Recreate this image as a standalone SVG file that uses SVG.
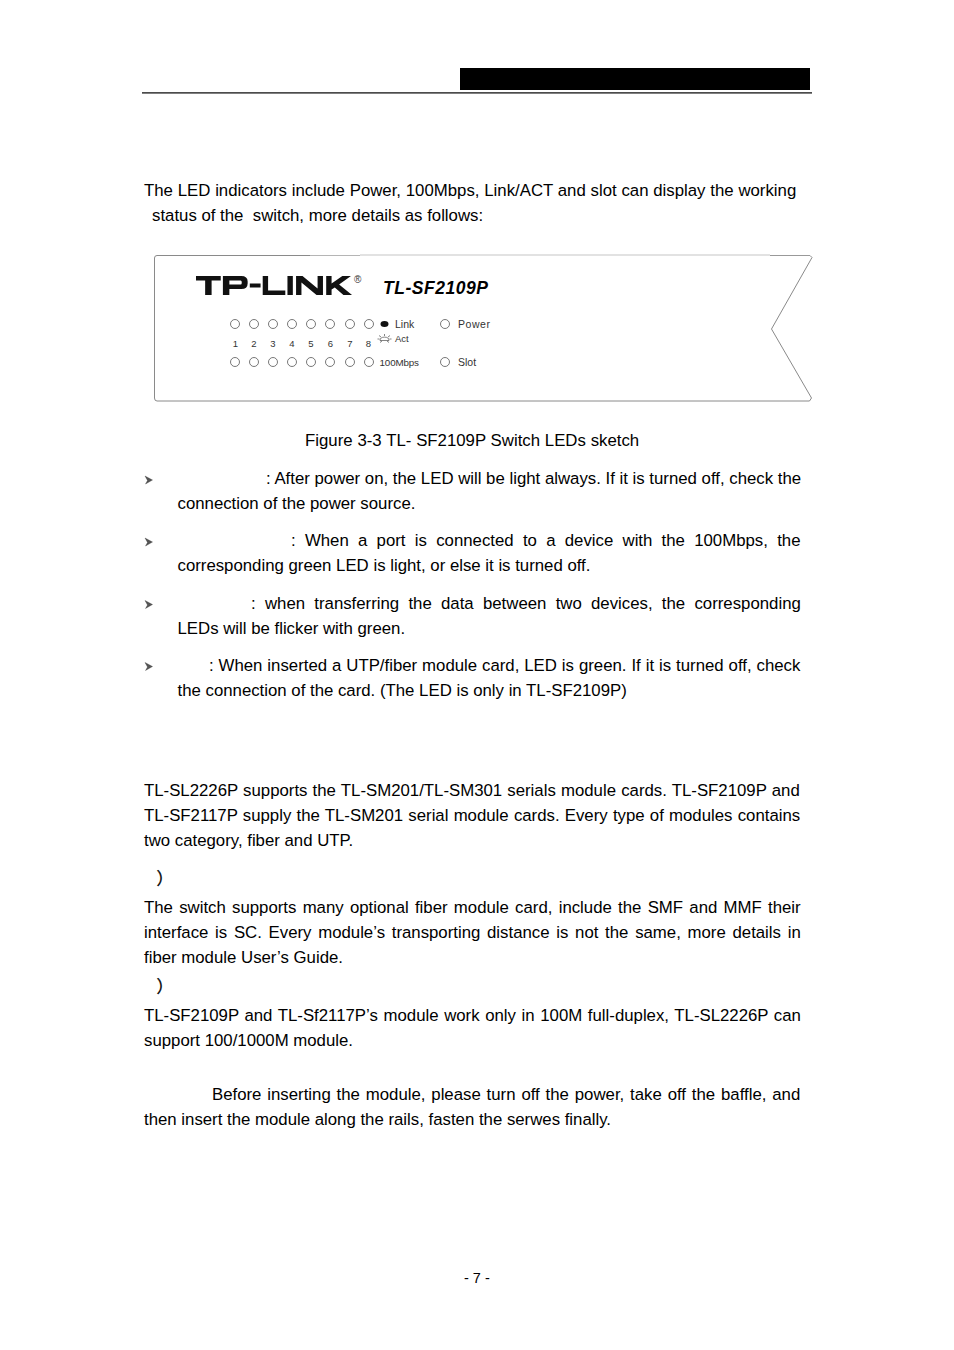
<svg xmlns="http://www.w3.org/2000/svg" width="954" height="1350" viewBox="0 0 954 1350">
<style>
text{font-family:"Liberation Sans",Arial,sans-serif;fill:#000}
.b{font-size:16.8px}
.led{fill:#fff;stroke:#555;stroke-width:.8}
.s{font-size:10.500px;fill:#333}
.m{font-size:9.500px;fill:#333}
.bul{fill:#555;stroke:#222;stroke-width:.3}
.par{font-family:"Noto Sans CJK SC",sans-serif;font-size:17px;stroke:#000;stroke-width:.3}
</style>
<rect width="954" height="1350" fill="#fff"/>
<g id="header">
<rect x="460" y="68" width="350" height="22" fill="#000"/>
<rect x="142" y="92.300" width="670" height="1.200" fill="#000"/>
</g>
<g id="intro">
<text class="b" x="144" y="196" word-spacing="0.120">The LED indicators include Power, 100Mbps, Link/ACT and slot can display the working</text>
<text class="b" x="152" y="221" xml:space="preserve">status of the  switch, more details as follows:</text>
</g>
<g id="panel">
<path d="M810 255.500L812 257.500L771.500 329L811.500 398L809.500 401H157Q154.500 401 154.500 398V258Q154.500 255.500 157 255.500H310" fill="#fff" stroke="#8a8a8a" stroke-width="1"/>
<path d="M310 255.500H360" stroke="#b5b5b5" stroke-width="1"/>
<path d="M360 255H770" stroke="#e2e2e2" stroke-width="2"/>
<path d="M770 255.500H810" stroke="#999" stroke-width="1"/>
<g id="logo" fill="#111">
<g transform="translate(196 0) scale(1.076 1) translate(-196 0)">
<path d="M196 276H219V280.500H210.500V295H204.500V280.500H196ZM221 276H238Q244 276 244 281.500V283.500Q244 289 238 289H227V295H221ZM227 280.500V284.500H237.500Q238.500 284.500 238.500 283V282Q238.500 280.500 237.500 280.500Z"/>
<rect x="246" y="283.500" width="10" height="4"/>
<path d="M258 276H263V290.500H279V295H258ZM281 276H286V295H281ZM289 276H295L309 288.500V276H314V295H308L294 282.500V295H289ZM317 276H322V283.500L332 276H340L329 284.500L341 295H333L325 287.500L322 289.500V295H317Z"/>
</g>
<text x="354" y="283" style="font-size:10px;fill:#333">®</text>
</g>
<text x="383" y="294" style="font-size:17.500px;font-weight:bold;font-style:italic" textLength="105">TL-SF2109P</text>
<g id="leds-top">
<circle class="led" cx="235" cy="324" r="4.500"/><circle class="led" cx="254" cy="324" r="4.500"/><circle class="led" cx="273" cy="324" r="4.500"/><circle class="led" cx="292" cy="324" r="4.500"/><circle class="led" cx="311" cy="324" r="4.500"/><circle class="led" cx="330" cy="324" r="4.500"/><circle class="led" cx="350" cy="324" r="4.500"/><circle class="led" cx="369" cy="324" r="4.500"/>
</g>
<g id="leds-bottom">
<circle class="led" cx="235" cy="362" r="4.500"/><circle class="led" cx="254" cy="362" r="4.500"/><circle class="led" cx="273" cy="362" r="4.500"/><circle class="led" cx="292" cy="362" r="4.500"/><circle class="led" cx="311" cy="362" r="4.500"/><circle class="led" cx="330" cy="362" r="4.500"/><circle class="led" cx="350" cy="362" r="4.500"/><circle class="led" cx="369" cy="362" r="4.500"/>
</g>
<g id="numbers" text-anchor="middle">
<text class="m" x="235.500" y="347">1</text><text class="m" x="254" y="347">2</text><text class="m" x="273" y="347">3</text><text class="m" x="292" y="347">4</text><text class="m" x="311" y="347">5</text><text class="m" x="330.500" y="347">6</text><text class="m" x="350" y="347">7</text><text class="m" x="368.500" y="347">8</text>
</g>
<ellipse cx="384.500" cy="324" rx="4" ry="3" fill="#111"/>
<text class="s" x="395" y="328">Link</text>
<g id="act-icon" stroke="#333" stroke-width=".6" fill="none">
<path d="M380 340.500A4 3 0 0 1 389 340.500Z"/><path d="M384.500 334V336M379 335.500L381 337M390 335.500L388 337M377.500 339H379.500M389.500 339H391.500M380 342.500L382 341M389 342.500L387 341"/>
</g>
<text class="m" x="395" y="342">Act</text>
<text x="379.500" y="365.500" style="font-size:9.800px;fill:#333" textLength="39.500">100Mbps</text>
<circle class="led" cx="445" cy="324" r="4.500"/>
<text class="s" x="458" y="328" textLength="32">Power</text>
<circle class="led" cx="445" cy="362" r="4.500"/>
<text class="s" x="458" y="366">Slot</text>
</g>
<text class="b" x="305" y="446" word-spacing="0.150">Figure 3-3 TL- SF2109P Switch LEDs sketch</text>
<g id="bullets">
<path class="bul" d="M145 476L152.500 480L145.500 484L147.500 480.500Z"/>
<path class="bul" d="M145 538L152.500 542L145.500 546L147.500 542.500Z"/>
<path class="bul" d="M145 600.500L152.500 604.500L145.500 608.500L147.500 605Z"/>
<path class="bul" d="M145 662.500L152.500 666.500L145.500 670.500L147.500 667Z"/>
</g>
<g id="list">
<text class="b" x="266" y="484">: After power on, the LED will be light always. If it is turned off, check the</text>
<text class="b" x="177.500" y="509">connection of the power source.</text>
<text class="b" x="291" y="546" word-spacing="4.600">: When a port is connected to a device with the 100Mbps, the</text>
<text class="b" x="177.500" y="571">corresponding green LED is light, or else it is turned off.</text>
<text class="b" x="251" y="609" word-spacing="4.600">: when transferring the data between two devices, the corresponding</text>
<text class="b" x="177.500" y="634">LEDs will be flicker with green.</text>
<text class="b" x="209" y="671" word-spacing="0.270">: When inserted a UTP/fiber module card, LED is green. If it is turned off, check</text>
<text class="b" x="177.500" y="696">the connection of the card. (The LED is only in TL-SF2109P)</text>
</g>
<g id="modules">
<text class="b" x="144" y="796" word-spacing="0.500">TL-SL2226P supports the TL-SM201/TL-SM301 serials module cards. TL-SF2109P and</text>
<text class="b" x="144" y="821" word-spacing="0.550">TL-SF2117P supply the TL-SM201 serial module cards. Every type of modules contains</text>
<text class="b" x="144" y="846">two category, fiber and UTP.</text>
<text class="par" x="156.500" y="884.500">）</text>
<text class="b" x="144" y="913" word-spacing="1.580">The switch supports many optional fiber module card, include the SMF and MMF their</text>
<text class="b" x="144" y="938" word-spacing="2.040">interface is SC. Every module’s transporting distance is not the same, more details in</text>
<text class="b" x="144" y="963">fiber module User’s Guide.</text>
<text class="par" x="156.500" y="992.500">）</text>
<text class="b" x="144" y="1021" word-spacing="0.950">TL-SF2109P and TL-Sf2117P’s module work only in 100M full-duplex, TL-SL2226P can</text>
<text class="b" x="144" y="1046">support 100/1000M module.</text>
<text class="b" x="212" y="1100" word-spacing="1.190">Before inserting the module, please turn off the power, take off the baffle, and</text>
<text class="b" x="144" y="1125">then insert the module along the rails, fasten the serwes finally.</text>
</g>
<text x="464" y="1283" style="font-size:14.500px">- 7 -</text>
</svg>
